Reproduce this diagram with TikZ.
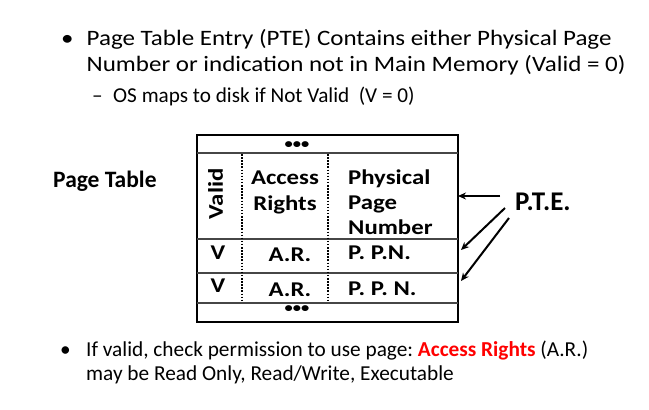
\documentclass[tikz,border=0pt]{standalone}
\usepackage{fontspec}
\setmainfont{Carlito}
\newfontfamily\topf{Carlito}[FakeStretch=1.136]
\newfontfamily\tabf{Carlito}[FakeStretch=1.18]
\usetikzlibrary{arrows.meta}
\definecolor{arred}{RGB}{255,0,0}
\definecolor{txt}{RGB}{0,0,0}
\begin{document}
\frenchspacing
\begin{tikzpicture}[x=1pt,y=-1pt,
  body/.style={font=\topf\fontsize{22}{26}\selectfont, inner sep=0pt, anchor=base west, text=txt},
  subtxt/.style={font=\fontsize{21.2}{25}\selectfont, inner sep=0pt, anchor=base west, text=txt},
  bot/.style={font=\fontsize{21.3}{25}\selectfont, inner sep=0pt, anchor=base west, text=txt},
  tb/.style={font=\tabf\fontsize{21}{25}\selectfont\bfseries, inner sep=0pt, text=txt},
  lbl/.style={font=\fontsize{23.5}{27}\selectfont\bfseries, inner sep=0pt, anchor=base west, text=txt},
  dotsrow/.style={font=\tabf\fontsize{14}{16}\selectfont\bfseries, inner sep=0pt, text=txt},
  outerbox/.style={draw, line width=2pt, minimum width=261pt, minimum height=187pt, inner sep=0pt},
  sepline/.style={line width=1.6pt, draw=gray!55!black},
  dotline/.style={line width=1.5pt, dash pattern=on 1.5pt off 1.6pt},
  arr/.style={line width=2pt, -{Stealth[length=8pt,width=7pt]}}]
\useasboundingbox (0,0) rectangle (649,410);

% top bullet
\node[body] (b1) at (61,45.7) {•};
\node[body] (l1) at (86.5,45.7) {Page Table Entry (PTE) Contains either Physical Page};
\node[body] (l2) at (86.5,71.7) {Number or indication not in Main Memory (Valid = 0)};
\node[subtxt] (d1) at (92,102.3) {–};
\node[subtxt] (l3) at (113,102.3) {OS maps to disk if Not Valid\ \ (V = 0)};

% page table label
\node[lbl] (pt) at (53,187) {Page Table};

% table
\node[outerbox] (tbl) at (327.5,228.5) {};
\draw[sepline] (197,153) -- (458,153);
\draw[sepline] (197,239) -- (458,239);
\draw[sepline] (197,273) -- (458,273);
\draw[sepline] (197,303) -- (458,303);
\draw[dotline] (242,154) -- (242,302);
\draw[dotline] (328,154) -- (328,302);

\node[dotsrow] (dt) at (297,144.7) {•••};
\node[dotsrow] (db) at (297,309.2) {•••};
\node[tb, rotate=90] (valid) at (215.5,194) {Valid};
\node[tb, anchor=base] (ac) at (285,184) {Access};
\node[tb, anchor=base] (rt) at (285,210) {Rights};
\node[tb, anchor=base west] (ph) at (348,184) {Physical};
\node[tb, anchor=base west] (pg) at (348,209.5) {Page};
\node[tb, anchor=base west] (nm) at (348,234.3) {Number};
\node[tb, anchor=base] (v1) at (218,259.3) {V};
\node[tb, anchor=base] (ar1) at (290,261.5) {A.R.};
\node[tb, anchor=base west] (p1) at (348,259.3) {P. P.N.};
\node[tb, anchor=base] (v2) at (218,292.7) {V};
\node[tb, anchor=base] (ar2) at (290,296) {A.R.};
\node[tb, anchor=base west] (p2) at (348,295) {P. P. N.};

% PTE arrows
\node[lbl, font=\fontsize{27}{31}\selectfont\bfseries] (pte) at (515,210) {P.T.E.};
\coordinate (s1) at (500,196);
\coordinate (s2) at (505,208);
\coordinate (s3) at (509,218);
\coordinate (e1) at (458,196);
\coordinate (e2) at (461,250);
\coordinate (e3) at (461,281);
\draw[arr] (s1) -- (e1);
\draw[arr] (s2) -- (e2);
\draw[arr] (s3) -- (e3);

% bottom bullet
\node[bot] (b2) at (60,356.7) {•};
\node[bot] (l4) at (86,356.7) {If valid, check permission to use page: \textbf{\textcolor{arred}{Access Rights}} (A.R.)};
\node[bot] (l5) at (86,380) {may be Read Only, Read/Write, Executable};
\end{tikzpicture}
\end{document}
